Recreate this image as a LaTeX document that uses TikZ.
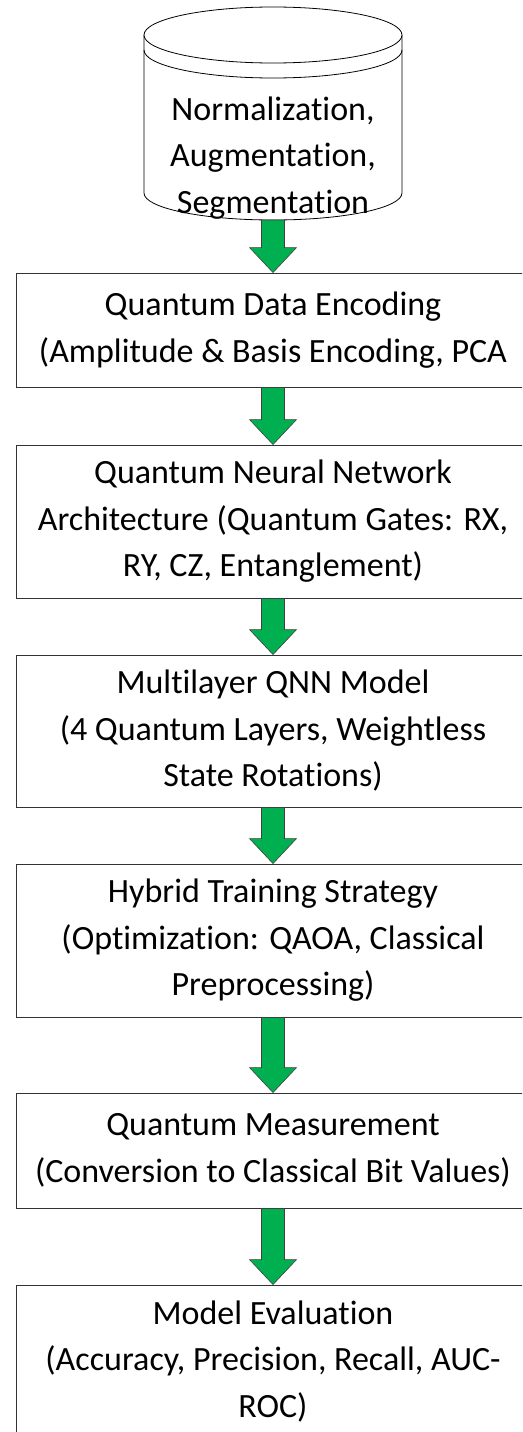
\documentclass[tikz,border=0pt]{standalone}
\usepackage{fontspec}
\setmainfont{Carlito}[Ligatures=NoCommon]
\usetikzlibrary{calc}
\definecolor{offgreen}{HTML}{00B050}
\tikzset{
  stepbox/.style={draw=black!80, line width=0.9pt, fill=white, rectangle,
    minimum width=514pt, inner sep=0pt, align=center,
    font=\fontsize{34}{46.5}\selectfont},
  dbtext/.style={inner sep=0pt, align=center, font=\fontsize{34}{46.5}\selectfont},
  garrowstyle/.style={fill=offgreen, draw=black!75, line width=0.6pt, line join=miter}
}
\newcommand\garrow[2]{%
  \draw[garrowstyle] ($(#1)+(-11.5,0)$) -- ($(#2)+(-11.5,25)$) -- ($(#2)+(-23.5,25)$) -- (#2)
    -- ($(#2)+(23.5,25)$) -- ($(#2)+(11.5,25)$) -- ($(#1)+(11.5,0)$) -- cycle;}
\begin{document}
\begin{tikzpicture}[x=1pt,y=1pt]
\useasboundingbox (0,0) rectangle (522,-1432);
\clip (0,0) rectangle (522,-1432);
\fill[white] (0,0) rectangle (522,-1432);
% cylinder
\draw[line width=0.8pt, fill=white] (144,-35) -- (144,-193) arc[start angle=180,end angle=360,x radius=129,y radius=27] -- (402,-35);
\draw[line width=0.8pt, fill=white] (273,-35) ellipse[x radius=129,y radius=28];
\draw[line width=0.8pt] (144,-50) arc[start angle=180,end angle=360,x radius=129,y radius=28];
\node[dbtext] (db) at (273,-158) {Normalization,\\Augmentation,\\Segmentation};
\coordinate (dbbot) at (273,-220);
% boxes
\node[stepbox, minimum height=114pt] (b1) at (273,-330) {Quantum Data Encoding\\(Amplitude \& Basis Encoding, PCA};
\node[stepbox, minimum height=153pt] (b2) at (273,-521.5) {Quantum Neural Network\\Architecture (Quantum Gates: RX,\\RY, CZ, Entanglement)};
\node[stepbox, minimum height=152pt] (b3) at (273,-731) {Multilayer QNN Model\\(4 Quantum Layers, Weightless\\State Rotations)};
\node[stepbox, minimum height=153pt] (b4) at (273,-940.5) {Hybrid Training Strategy\\(Optimization: QAOA, Classical\\Preprocessing)};
\node[stepbox, minimum height=115pt] (b5) at (273,-1150.5) {Quantum Measurement\\(Conversion to Classical Bit Values)};
\node[stepbox, minimum height=153pt] (b6) at (273,-1361.5) {Model Evaluation\\(Accuracy, Precision, Recall, AUC-\\ROC)};
% arrows
\garrow{dbbot}{b1.north}
\garrow{b1.south}{b2.north}
\garrow{b2.south}{b3.north}
\garrow{b3.south}{b4.north}
\garrow{b4.south}{b5.north}
\garrow{b5.south}{b6.north}
\end{tikzpicture}
\end{document}
